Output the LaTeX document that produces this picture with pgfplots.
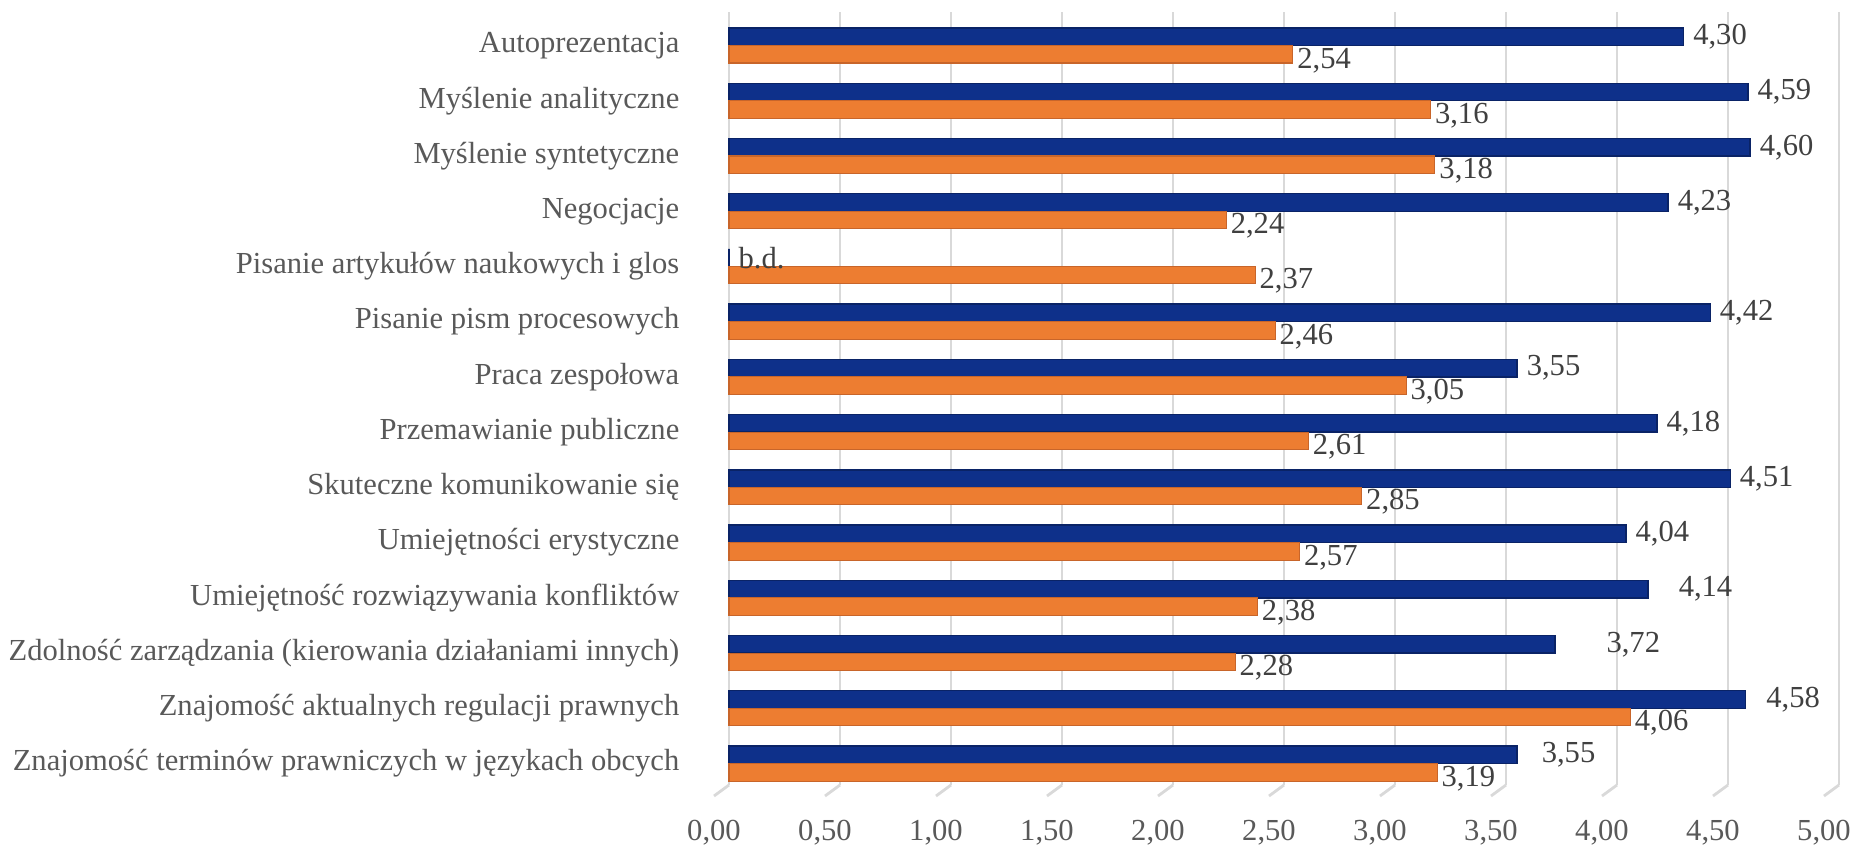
\documentclass[border=0pt]{standalone}
\usepackage{fontspec}
\setmainfont{Liberation Serif}
\usepackage{pgfplots}
\usepackage{pgfplotstable}
\pgfplotsset{compat=1.18}

\definecolor{navy}{HTML}{0E308A}
\definecolor{navyedge}{HTML}{0A2366}
\definecolor{orng}{HTML}{ED7D31}
\definecolor{orngedge}{HTML}{C8652A}
\definecolor{gridgray}{HTML}{D9D9D9}
\definecolor{labgray}{HTML}{595959}
\definecolor{valgray}{HTML}{404040}

% y = 0 is the bottom category; dx = label gap after the bar end (cm)
\pgfplotstableread{
y  x    lbl   dx
0  3.55 3,55  0.24
1  4.58 4,58  0.20
2  3.72 3,72  0.51
3  4.14 4,14  0.30
4  4.04 4,04  0.09
5  4.51 4,51  0.09
6  4.18 4,18  0.09
7  3.55 3,55  0.09
8  4.42 4,42  0.09
9  0    b.d.  0.09
10 4.23 4,23  0.09
11 4.60 4,60  0.09
12 4.59 4,59  0.09
13 4.30 4,30  0.09
}\blueTab

\pgfplotstableread{
y  x    lbl
0  3.19 3,19
1  4.06 4,06
2  2.28 2,28
3  2.38 2,38
4  2.57 2,57
5  2.85 2,85
6  2.61 2,61
7  3.05 3,05
8  2.46 2,46
9  2.37 2,37
10 2.24 2,24
11 3.18 3,18
12 3.16 3,16
13 2.54 2,54
}\orangeTab

\begin{document}
\begin{tikzpicture}[font=\fontsize{8.7}{10}\selectfont]
\path[use as bounding box] (-7.29,-0.63) rectangle (11.25,7.85);
\begin{axis}[
  at={(0,0)}, anchor=south west,
  scale only axis, width=11.10cm, height=7.73cm,
  xbar, bar width=0.175cm,
  xmin=0, xmax=5, ymin=-0.389, ymax=13.607,
  xtick={0,0.5,1,1.5,2,2.5,3,3.5,4,4.5,5},
  ytick={0,...,13},
  yticklabels={
    {Znajomość terminów prawniczych w językach obcych},
    {Znajomość aktualnych regulacji prawnych},
    {Zdolność zarządzania (kierowania działaniami innych)},
    {Umiejętność rozwiązywania konfliktów},
    {Umiejętności erystyczne},
    {Skuteczne komunikowanie się},
    {Przemawianie publiczne},
    {Praca zespołowa},
    {Pisanie pism procesowych},
    {Pisanie artykułów naukowych i glos},
    {Negocjacje},
    {Myślenie syntetyczne},
    {Myślenie analityczne},
    {Autoprezentacja}},
  axis line style={draw=none},
  major tick length=0pt,
  xmajorgrids,
  major grid style={gridgray, line width=0.8pt},
  tick label style={font=\fontsize{8.7}{10}\selectfont, text=labgray, inner sep=0pt},
  yticklabel style={anchor=east, xshift=-0.49cm},
  xticklabel style={anchor=center, xshift=-0.15cm, yshift=-0.48cm,
    /pgf/number format/.cd, fixed, fixed zerofill, precision=2, use comma,
    assume math mode=true},
  scaled x ticks=false,
  clip=false,
  point meta=explicit symbolic,
  every node near coord/.append style={font=\fontsize{8.7}{10}\selectfont,
    text=valgray, anchor=west, inner sep=0pt},
]
\pgfplotsinvokeforeach{0,0.5,1,1.5,2,2.5,3,3.5,4,4.5,5}{
  \draw[gridgray, line width=0.8pt] (axis cs:#1,-0.389) -- ++(-0.15cm,-0.11cm);
}
\addplot[fill=navy, draw=navyedge, line width=0.4pt, bar shift=0.0875cm,
  visualization depends on={\thisrow{dx} \as \dx},
  nodes near coords={\hspace*{\dx cm}\pgfplotspointmeta}]
  table[x=x, y=y, meta=lbl] {\blueTab};
\addplot[fill=orng, draw=orngedge, line width=0.3pt, bar shift=-0.0875cm,
  nodes near coords={\hspace*{0.04cm}\pgfplotspointmeta},
  every node near coord/.append style={yshift=-0.06cm}]
  table[x=x, y=y, meta=lbl] {\orangeTab};
\end{axis}
\end{tikzpicture}
\end{document}
